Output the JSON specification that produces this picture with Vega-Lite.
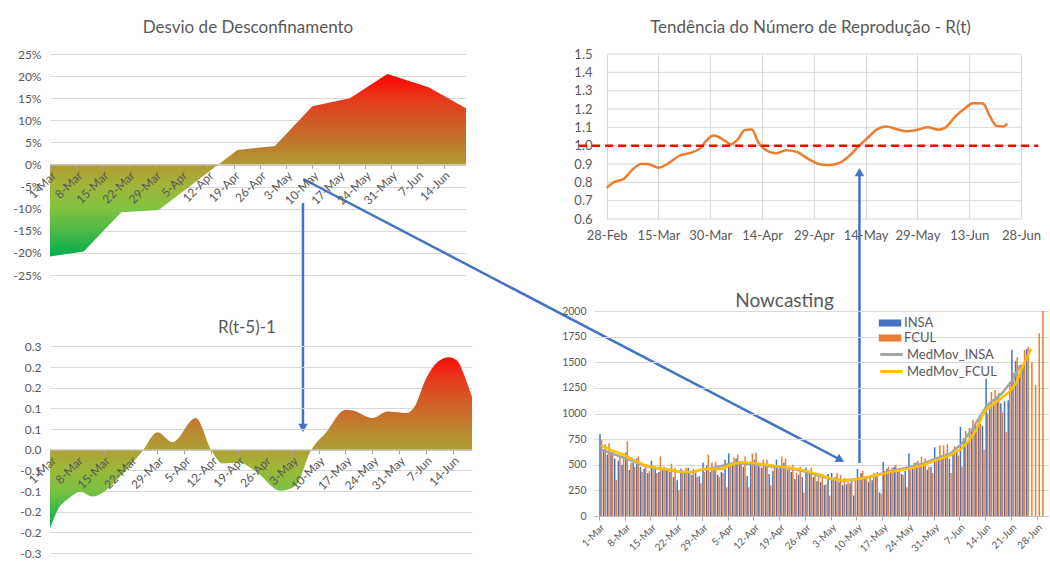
{
"$schema": "https://vega.github.io/schema/vega-lite/v6.json",
"background": "white",
"padding": {"left": 13, "top": 19, "right": 0, "bottom": 0},
"config": {
 "font": "Lato",
 "view": {"stroke": null},
 "axis": {"labelFont": "Lato", "labelColor": "#595959", "gridColor": "#d9d9d9", "domainColor": "#bfbfbf", "tickColor": "#a6a6a6"},
 "legend": {"labelFont": "Lato", "labelColor": "#595959"},
 "title": {"font": "Lato", "fontWeight": "normal", "color": "#595959", "frame": "group"},
 "locale": {"number": {"decimal": ".", "thousands": ",", "grouping": [3], "currency": ["$", ""], "minus": "-"}}
},
"datasets": {
 "desvio": [
  {"date": "2021-03-01", "value": -0.208},
  {"date": "2021-03-10", "value": -0.197},
  {"date": "2021-03-20", "value": -0.108},
  {"date": "2021-03-30", "value": -0.103},
  {"date": "2021-04-20", "value": 0.033},
  {"date": "2021-04-30", "value": 0.042},
  {"date": "2021-05-10", "value": 0.132},
  {"date": "2021-05-20", "value": 0.150},
  {"date": "2021-05-30", "value": 0.205},
  {"date": "2021-06-10", "value": 0.175},
  {"date": "2021-06-20", "value": 0.127}
 ],
 "rt5": [
  {"date": "2021-03-01", "value": -0.229},
  {"date": "2021-03-03", "value": -0.175},
  {"date": "2021-03-06", "value": -0.140},
  {"date": "2021-03-09", "value": -0.122},
  {"date": "2021-03-12", "value": -0.136},
  {"date": "2021-03-15", "value": -0.123},
  {"date": "2021-03-18", "value": -0.092},
  {"date": "2021-03-22", "value": -0.045},
  {"date": "2021-03-25", "value": -0.005},
  {"date": "2021-03-29", "value": 0.051},
  {"date": "2021-04-02", "value": 0.022},
  {"date": "2021-04-08", "value": 0.092},
  {"date": "2021-04-12", "value": 0.0},
  {"date": "2021-04-15", "value": -0.040},
  {"date": "2021-04-19", "value": -0.037},
  {"date": "2021-04-24", "value": -0.066},
  {"date": "2021-04-30", "value": -0.119},
  {"date": "2021-05-04", "value": -0.105},
  {"date": "2021-05-08", "value": -0.002},
  {"date": "2021-05-12", "value": 0.051},
  {"date": "2021-05-17", "value": 0.116},
  {"date": "2021-05-19", "value": 0.114},
  {"date": "2021-05-24", "value": 0.092},
  {"date": "2021-05-28", "value": 0.111},
  {"date": "2021-06-02", "value": 0.107},
  {"date": "2021-06-04", "value": 0.124},
  {"date": "2021-06-07", "value": 0.206},
  {"date": "2021-06-10", "value": 0.255},
  {"date": "2021-06-13", "value": 0.269},
  {"date": "2021-06-15", "value": 0.260},
  {"date": "2021-06-17", "value": 0.216},
  {"date": "2021-06-19", "value": 0.153}
 ],
 "rt": [
  {"date": "2021-02-28", "value": 0.77}, {"date": "2021-03-02", "value": 0.80}, {"date": "2021-03-05", "value": 0.82},
  {"date": "2021-03-07", "value": 0.86}, {"date": "2021-03-10", "value": 0.90}, {"date": "2021-03-12", "value": 0.90},
  {"date": "2021-03-15", "value": 0.88}, {"date": "2021-03-18", "value": 0.905}, {"date": "2021-03-21", "value": 0.945},
  {"date": "2021-03-25", "value": 0.965}, {"date": "2021-03-27", "value": 0.985}, {"date": "2021-03-29", "value": 1.03},
  {"date": "2021-03-31", "value": 1.055}, {"date": "2021-04-03", "value": 1.03}, {"date": "2021-04-05", "value": 1.008},
  {"date": "2021-04-07", "value": 1.035}, {"date": "2021-04-09", "value": 1.085}, {"date": "2021-04-11", "value": 1.088},
  {"date": "2021-04-13", "value": 1.015}, {"date": "2021-04-16", "value": 0.967}, {"date": "2021-04-18", "value": 0.958},
  {"date": "2021-04-21", "value": 0.975}, {"date": "2021-04-24", "value": 0.967}, {"date": "2021-04-27", "value": 0.932},
  {"date": "2021-04-30", "value": 0.903}, {"date": "2021-05-03", "value": 0.894}, {"date": "2021-05-06", "value": 0.903},
  {"date": "2021-05-09", "value": 0.94}, {"date": "2021-05-12", "value": 0.997}, {"date": "2021-05-15", "value": 1.05},
  {"date": "2021-05-17", "value": 1.085}, {"date": "2021-05-20", "value": 1.105}, {"date": "2021-05-23", "value": 1.09},
  {"date": "2021-05-26", "value": 1.078}, {"date": "2021-05-29", "value": 1.087}, {"date": "2021-06-01", "value": 1.10},
  {"date": "2021-06-04", "value": 1.087}, {"date": "2021-06-06", "value": 1.097}, {"date": "2021-06-09", "value": 1.16},
  {"date": "2021-06-12", "value": 1.207}, {"date": "2021-06-14", "value": 1.232}, {"date": "2021-06-17", "value": 1.23},
  {"date": "2021-06-19", "value": 1.16}, {"date": "2021-06-21", "value": 1.107}, {"date": "2021-06-23", "value": 1.105},
  {"date": "2021-06-24", "value": 1.12}
 ],
 "rtGrid": [
  {"value": 0.6, "date": "2021-02-28", "date2": "2021-06-28"}, {"value": 0.7, "date": "2021-02-28", "date2": "2021-06-28"},
  {"value": 0.8, "date": "2021-02-28", "date2": "2021-06-28"}, {"value": 0.9, "date": "2021-02-28", "date2": "2021-06-28"},
  {"value": 1.0, "date": "2021-02-28", "date2": "2021-06-28"}, {"value": 1.1, "date": "2021-02-28", "date2": "2021-06-28"},
  {"value": 1.2, "date": "2021-02-28", "date2": "2021-06-28"}, {"value": 1.3, "date": "2021-02-28", "date2": "2021-06-28"},
  {"value": 1.4, "date": "2021-02-28", "date2": "2021-06-28"}, {"value": 1.5, "date": "2021-02-28", "date2": "2021-06-28"}
 ],
 "rtRef": [{"value": 1.0, "date": "2021-02-20", "date2": "2021-07-03"}],
 "bars": [
  {"date":"2021-03-01","INSA":800,"FCUL":740},{"date":"2021-03-02","INSA":650,"FCUL":700},{"date":"2021-03-03","INSA":600,"FCUL":710},
  {"date":"2021-03-04","INSA":620,"FCUL":640},{"date":"2021-03-05","INSA":560,"FCUL":350},{"date":"2021-03-06","INSA":540,"FCUL":580},
  {"date":"2021-03-07","INSA":500,"FCUL":600},{"date":"2021-03-08","INSA":620,"FCUL":730},{"date":"2021-03-09","INSA":450,"FCUL":520},
  {"date":"2021-03-10","INSA":520,"FCUL":480},{"date":"2021-03-11","INSA":560,"FCUL":580},{"date":"2021-03-12","INSA":480,"FCUL":430},
  {"date":"2021-03-13","INSA":460,"FCUL":500},{"date":"2021-03-14","INSA":420,"FCUL":440},{"date":"2021-03-15","INSA":540,"FCUL":470},
  {"date":"2021-03-16","INSA":480,"FCUL":420},{"date":"2021-03-17","INSA":430,"FCUL":580},{"date":"2021-03-18","INSA":450,"FCUL":480},
  {"date":"2021-03-19","INSA":470,"FCUL":460},{"date":"2021-03-20","INSA":430,"FCUL":510},{"date":"2021-03-21","INSA":380,"FCUL":470},
  {"date":"2021-03-22","INSA":350,"FCUL":250},{"date":"2021-03-23","INSA":460,"FCUL":420},{"date":"2021-03-24","INSA":430,"FCUL":470},
  {"date":"2021-03-25","INSA":470,"FCUL":440},{"date":"2021-03-26","INSA":400,"FCUL":460},{"date":"2021-03-27","INSA":420,"FCUL":380},
  {"date":"2021-03-28","INSA":390,"FCUL":320},{"date":"2021-03-29","INSA":520,"FCUL":430},{"date":"2021-03-30","INSA":490,"FCUL":600},
  {"date":"2021-03-31","INSA":430,"FCUL":520},{"date":"2021-04-01","INSA":450,"FCUL":530},{"date":"2021-04-02","INSA":400,"FCUL":380},
  {"date":"2021-04-03","INSA":430,"FCUL":420},{"date":"2021-04-04","INSA":550,"FCUL":280},{"date":"2021-04-05","INSA":610,"FCUL":500},
  {"date":"2021-04-06","INSA":520,"FCUL":570},{"date":"2021-04-07","INSA":560,"FCUL":600},{"date":"2021-04-08","INSA":530,"FCUL":520},
  {"date":"2021-04-09","INSA":480,"FCUL":580},{"date":"2021-04-10","INSA":390,"FCUL":280},{"date":"2021-04-11","INSA":530,"FCUL":610},
  {"date":"2021-04-12","INSA":550,"FCUL":620},{"date":"2021-04-13","INSA":500,"FCUL":480},{"date":"2021-04-14","INSA":470,"FCUL":550},
  {"date":"2021-04-15","INSA":480,"FCUL":550},{"date":"2021-04-16","INSA":410,"FCUL":300},{"date":"2021-04-17","INSA":440,"FCUL":480},
  {"date":"2021-04-18","INSA":550,"FCUL":460},{"date":"2021-04-19","INSA":470,"FCUL":580},{"date":"2021-04-20","INSA":520,"FCUL":560},
  {"date":"2021-04-21","INSA":450,"FCUL":470},{"date":"2021-04-22","INSA":430,"FCUL":500},{"date":"2021-04-23","INSA":360,"FCUL":420},
  {"date":"2021-04-24","INSA":400,"FCUL":480},{"date":"2021-04-25","INSA":380,"FCUL":230},{"date":"2021-04-26","INSA":470,"FCUL":450},
  {"date":"2021-04-27","INSA":430,"FCUL":470},{"date":"2021-04-28","INSA":380,"FCUL":420},{"date":"2021-04-29","INSA":340,"FCUL":400},
  {"date":"2021-04-30","INSA":330,"FCUL":410},{"date":"2021-05-01","INSA":300,"FCUL":310},{"date":"2021-05-02","INSA":410,"FCUL":200},
  {"date":"2021-05-03","INSA":420,"FCUL":360},{"date":"2021-05-04","INSA":380,"FCUL":420},{"date":"2021-05-05","INSA":330,"FCUL":400},
  {"date":"2021-05-06","INSA":300,"FCUL":370},{"date":"2021-05-07","INSA":310,"FCUL":330},{"date":"2021-05-08","INSA":320,"FCUL":350},
  {"date":"2021-05-09","INSA":200,"FCUL":360},{"date":"2021-05-10","INSA":460,"FCUL":380},{"date":"2021-05-11","INSA":420,"FCUL":440},
  {"date":"2021-05-12","INSA":380,"FCUL":390},{"date":"2021-05-13","INSA":330,"FCUL":400},{"date":"2021-05-14","INSA":350,"FCUL":420},
  {"date":"2021-05-15","INSA":380,"FCUL":430},{"date":"2021-05-16","INSA":230,"FCUL":220},{"date":"2021-05-17","INSA":530,"FCUL":440},
  {"date":"2021-05-18","INSA":460,"FCUL":480},{"date":"2021-05-19","INSA":450,"FCUL":470},{"date":"2021-05-20","INSA":480,"FCUL":500},
  {"date":"2021-05-21","INSA":430,"FCUL":470},{"date":"2021-05-22","INSA":410,"FCUL":400},{"date":"2021-05-23","INSA":440,"FCUL":280},
  {"date":"2021-05-24","INSA":610,"FCUL":480},{"date":"2021-05-25","INSA":480,"FCUL":520},{"date":"2021-05-26","INSA":520,"FCUL":540},
  {"date":"2021-05-27","INSA":500,"FCUL":580},{"date":"2021-05-28","INSA":500,"FCUL":560},{"date":"2021-05-29","INSA":450,"FCUL":480},
  {"date":"2021-05-30","INSA":480,"FCUL":420},{"date":"2021-05-31","INSA":670,"FCUL":540},{"date":"2021-06-01","INSA":550,"FCUL":690},
  {"date":"2021-06-02","INSA":560,"FCUL":690},{"date":"2021-06-03","INSA":600,"FCUL":700},{"date":"2021-06-04","INSA":560,"FCUL":420},
  {"date":"2021-06-05","INSA":620,"FCUL":680},{"date":"2021-06-06","INSA":630,"FCUL":590},{"date":"2021-06-07","INSA":870,"FCUL":480},
  {"date":"2021-06-08","INSA":760,"FCUL":830},{"date":"2021-06-09","INSA":720,"FCUL":860},{"date":"2021-06-10","INSA":830,"FCUL":940},
  {"date":"2021-06-11","INSA":900,"FCUL":880},{"date":"2021-06-12","INSA":950,"FCUL":900},{"date":"2021-06-13","INSA":880,"FCUL":650},
  {"date":"2021-06-14","INSA":1340,"FCUL":1000},{"date":"2021-06-15","INSA":1050,"FCUL":1210},{"date":"2021-06-16","INSA":1080,"FCUL":1230},
  {"date":"2021-06-17","INSA":1150,"FCUL":1200},{"date":"2021-06-18","INSA":1100,"FCUL":1010},{"date":"2021-06-19","INSA":1120,"FCUL":820},
  {"date":"2021-06-20","INSA":1130,"FCUL":1300},{"date":"2021-06-21","INSA":1620,"FCUL":1400},{"date":"2021-06-22","INSA":1510,"FCUL":1550},
  {"date":"2021-06-23","INSA":1350,"FCUL":1480},{"date":"2021-06-24","INSA":1450,"FCUL":1620},{"date":"2021-06-25","INSA":1630,"FCUL":1650},
  {"date":"2021-06-26","INSA":null,"FCUL":1500},{"date":"2021-06-27","INSA":null,"FCUL":1280},{"date":"2021-06-28","INSA":null,"FCUL":1780},
  {"date":"2021-06-29","INSA":null,"FCUL":2000}
 ],
 "medmov": [
  {"date":"2021-03-01","series":"MedMov_INSA","value":650},{"date":"2021-03-04","series":"MedMov_INSA","value":610},
  {"date":"2021-03-07","series":"MedMov_INSA","value":570},{"date":"2021-03-10","series":"MedMov_INSA","value":530},
  {"date":"2021-03-13","series":"MedMov_INSA","value":490},{"date":"2021-03-16","series":"MedMov_INSA","value":465},
  {"date":"2021-03-19","series":"MedMov_INSA","value":450},{"date":"2021-03-23","series":"MedMov_INSA","value":430},
  {"date":"2021-03-26","series":"MedMov_INSA","value":430},{"date":"2021-03-29","series":"MedMov_INSA","value":455},
  {"date":"2021-04-01","series":"MedMov_INSA","value":470},{"date":"2021-04-05","series":"MedMov_INSA","value":510},
  {"date":"2021-04-08","series":"MedMov_INSA","value":515},{"date":"2021-04-11","series":"MedMov_INSA","value":505},
  {"date":"2021-04-14","series":"MedMov_INSA","value":495},{"date":"2021-04-17","series":"MedMov_INSA","value":480},
  {"date":"2021-04-20","series":"MedMov_INSA","value":470},{"date":"2021-04-24","series":"MedMov_INSA","value":445},
  {"date":"2021-04-27","series":"MedMov_INSA","value":420},{"date":"2021-04-30","series":"MedMov_INSA","value":385},
  {"date":"2021-05-03","series":"MedMov_INSA","value":355},{"date":"2021-05-06","series":"MedMov_INSA","value":345},
  {"date":"2021-05-10","series":"MedMov_INSA","value":355},{"date":"2021-05-13","series":"MedMov_INSA","value":380},
  {"date":"2021-05-16","series":"MedMov_INSA","value":410},{"date":"2021-05-20","series":"MedMov_INSA","value":445},
  {"date":"2021-05-24","series":"MedMov_INSA","value":478},{"date":"2021-05-28","series":"MedMov_INSA","value":515},
  {"date":"2021-05-31","series":"MedMov_INSA","value":559},{"date":"2021-06-04","series":"MedMov_INSA","value":608},
  {"date":"2021-06-07","series":"MedMov_INSA","value":700},{"date":"2021-06-10","series":"MedMov_INSA","value":852},
  {"date":"2021-06-14","series":"MedMov_INSA","value":1079},{"date":"2021-06-18","series":"MedMov_INSA","value":1193},
  {"date":"2021-06-21","series":"MedMov_INSA","value":1330},{"date":"2021-06-23","series":"MedMov_INSA","value":1469},
  {"date":"2021-03-01","series":"MedMov_FCUL","value":690},{"date":"2021-03-04","series":"MedMov_FCUL","value":640},
  {"date":"2021-03-07","series":"MedMov_FCUL","value":600},{"date":"2021-03-10","series":"MedMov_FCUL","value":545},
  {"date":"2021-03-13","series":"MedMov_FCUL","value":495},{"date":"2021-03-16","series":"MedMov_FCUL","value":470},
  {"date":"2021-03-19","series":"MedMov_FCUL","value":455},{"date":"2021-03-23","series":"MedMov_FCUL","value":430},
  {"date":"2021-03-26","series":"MedMov_FCUL","value":430},{"date":"2021-03-29","series":"MedMov_FCUL","value":460},
  {"date":"2021-04-01","series":"MedMov_FCUL","value":455},{"date":"2021-04-03","series":"MedMov_FCUL","value":460},
  {"date":"2021-04-05","series":"MedMov_FCUL","value":495},{"date":"2021-04-08","series":"MedMov_FCUL","value":525},
  {"date":"2021-04-11","series":"MedMov_FCUL","value":520},{"date":"2021-04-14","series":"MedMov_FCUL","value":505},
  {"date":"2021-04-17","series":"MedMov_FCUL","value":490},{"date":"2021-04-20","series":"MedMov_FCUL","value":478},
  {"date":"2021-04-24","series":"MedMov_FCUL","value":455},{"date":"2021-04-27","series":"MedMov_FCUL","value":430},
  {"date":"2021-04-30","series":"MedMov_FCUL","value":395},{"date":"2021-05-03","series":"MedMov_FCUL","value":360},
  {"date":"2021-05-06","series":"MedMov_FCUL","value":348},{"date":"2021-05-10","series":"MedMov_FCUL","value":360},
  {"date":"2021-05-13","series":"MedMov_FCUL","value":385},{"date":"2021-05-16","series":"MedMov_FCUL","value":405},
  {"date":"2021-05-20","series":"MedMov_FCUL","value":440},{"date":"2021-05-24","series":"MedMov_FCUL","value":462},
  {"date":"2021-05-28","series":"MedMov_FCUL","value":500},{"date":"2021-05-31","series":"MedMov_FCUL","value":543},
  {"date":"2021-06-04","series":"MedMov_FCUL","value":592},{"date":"2021-06-07","series":"MedMov_FCUL","value":657},
  {"date":"2021-06-09","series":"MedMov_FCUL","value":730},{"date":"2021-06-11","series":"MedMov_FCUL","value":836},
  {"date":"2021-06-13","series":"MedMov_FCUL","value":1000},{"date":"2021-06-14","series":"MedMov_FCUL","value":1047},
  {"date":"2021-06-17","series":"MedMov_FCUL","value":1128},{"date":"2021-06-20","series":"MedMov_FCUL","value":1210},
  {"date":"2021-06-22","series":"MedMov_FCUL","value":1300},{"date":"2021-06-23","series":"MedMov_FCUL","value":1405},
  {"date":"2021-06-25","series":"MedMov_FCUL","value":1560},{"date":"2021-06-26","series":"MedMov_FCUL","value":1632}
 ],
 "arrowDown": [{"date": "2021-05-07T12:00", "value": -0.0871, "date2": "2021-05-07T12:00", "value2": -0.596}],
 "arrowDownHead": [{"date": "2021-05-07T12:00", "value": -0.596}],
 "arrowDiag": [{"date": "2021-05-07T14:00", "value": -0.0328, "date2": "2021-09-27T22:00", "value2": -0.668}],
 "arrowDiagHead": [{"date": "2021-09-27T22:00", "value": -0.668}],
 "arrowUp": [{"date": "2021-05-12T05:00", "value": -0.731, "date2": "2021-05-12T05:00", "value2": 0.856}],
 "arrowUpHead": [{"date": "2021-05-12T05:00", "value": 0.856}]
},
"columns": 3,
"bounds": "flush",
"spacing": 0,
"resolve": {"scale": {"color": "independent", "stroke": "independent"}, "legend": {"color": "independent", "stroke": "independent"}},
"concat": [
 {
  "title": {"text": "Desvio de Desconfinamento", "fontSize": 17, "offset": 11, "dx": -10},
  "width": 416, "height": 221,
  "encoding": {
   "x": {"field": "date", "type": "temporal",
    "scale": {"domain": [{"year": 2021, "month": 3, "date": 1}, {"year": 2021, "month": 6, "date": 20}]},
    "axis": {"title": null, "format": "%-d-%b", "labelAngle": -45, "labelFontSize": 12, "offset": -110.5, "grid": false,
     "tickSize": 4, "labelPadding": 1, "zindex": 1, "labelFlush": false, "labelOverlap": false,
     "values": [{"year":2021,"month":3,"date":1},{"year":2021,"month":3,"date":8},{"year":2021,"month":3,"date":15},{"year":2021,"month":3,"date":22},{"year":2021,"month":3,"date":29},{"year":2021,"month":4,"date":5},{"year":2021,"month":4,"date":12},{"year":2021,"month":4,"date":19},{"year":2021,"month":4,"date":26},{"year":2021,"month":5,"date":3},{"year":2021,"month":5,"date":10},{"year":2021,"month":5,"date":17},{"year":2021,"month":5,"date":24},{"year":2021,"month":5,"date":31},{"year":2021,"month":6,"date":7},{"year":2021,"month":6,"date":14}]}},
   "y": {"field": "value", "type": "quantitative", "scale": {"domain": [-0.25, 0.25], "nice": false, "zero": false},
    "axis": {"title": null, "format": ".0%", "labelFontSize": 12, "domain": false, "ticks": false, "grid": true, "labelPadding": 9,
     "values": [-0.25, -0.2, -0.15, -0.1, -0.05, 0, 0.05, 0.1, 0.15, 0.2, 0.25]}}
  },
  "layer": [
   {
    "data": {"name": "desvio"},
    "mark": {"type": "area", "color": {"gradient": "linear", "x1": 0, "y1": 1, "x2": 0, "y2": 0,
      "stops": [{"offset": 0, "color": "#00ae4d"}, {"offset": 0.14, "color": "#4cb847"}, {"offset": 0.27, "color": "#83c341"},
        {"offset": 0.4, "color": "#a3b33a"}, {"offset": 0.5, "color": "#b09c33"}, {"offset": 0.63, "color": "#c0762d"},
        {"offset": 0.75, "color": "#d25726"}, {"offset": 0.87, "color": "#e8361a"}, {"offset": 1, "color": "#ff0000"}]}},
    "encoding": {"y2": {"datum": 0}}
   },
   {
    "data": {"name": "arrowDown"},
    "mark": {"type": "rule", "color": "#4472c4", "strokeWidth": 2.5},
    "encoding": {"x2": {"field": "date2"}, "y2": {"field": "value2"}}
   },
   {
    "data": {"name": "arrowDownHead"},
    "mark": {"type": "point", "shape": "triangle-down", "filled": true, "size": 90, "color": "#4472c4", "opacity": 1},
    "encoding": {}
   },
   {
    "data": {"name": "arrowDiag"},
    "mark": {"type": "rule", "color": "#4472c4", "strokeWidth": 2.5},
    "encoding": {"x2": {"field": "date2"}, "y2": {"field": "value2"}}
   },
   {
    "data": {"name": "arrowDiagHead"},
    "mark": {"type": "point", "shape": "triangle-right", "angle": 27.6, "filled": true, "size": 90, "color": "#4472c4", "opacity": 1},
    "encoding": {}
   }
  ]
 },
 {"width": 121.3, "height": 1, "data": {"values": []}, "mark": "point"},
 {
  "title": {"text": "Tendência do Número de Reprodução - R(t)", "fontSize": 17, "offset": 11, "dx": 3},
  "width": 427, "height": 165,
  "encoding": {
   "x": {"field": "date", "type": "temporal",
    "scale": {"domain": [{"year": 2021, "month": 2, "date": 24, "hours": 7, "minutes": 40}, {"year": 2021, "month": 6, "date": 28}]},
    "axis": {"title": null, "format": "%-d-%b", "labelFontSize": 13, "grid": true, "domain": false, "ticks": false,
     "labelPadding": 10, "labelFlush": false, "labelOverlap": false, "labelAngle": 0,
     "values": [{"year":2021,"month":2,"date":28},{"year":2021,"month":3,"date":15},{"year":2021,"month":3,"date":30},{"year":2021,"month":4,"date":14},{"year":2021,"month":4,"date":29},{"year":2021,"month":5,"date":14},{"year":2021,"month":5,"date":29},{"year":2021,"month":6,"date":13},{"year":2021,"month":6,"date":28}]}},
   "y": {"field": "value", "type": "quantitative", "scale": {"domain": [0.6, 1.5], "nice": false, "zero": false},
    "axis": {"title": null, "format": ".1f", "labelFontSize": 13, "domain": false, "ticks": false, "grid": false, "labelPadding": 2,
     "values": [0.6, 0.7, 0.8, 0.9, 1.0, 1.1, 1.2, 1.3, 1.4, 1.5]}}
  },
  "layer": [
   {
    "data": {"name": "rtGrid"},
    "mark": {"type": "rule", "color": "#d9d9d9", "strokeWidth": 1},
    "encoding": {"x2": {"field": "date2"}}
   },
   {
    "data": {"name": "rt"},
    "mark": {"type": "line", "interpolate": "monotone", "color": "#ed7d31", "strokeWidth": 2.5},
    "encoding": {}
   },
   {
    "data": {"name": "rtRef"},
    "mark": {"type": "rule", "color": "#ff0000", "strokeWidth": 2.5, "strokeDash": [8, 5]},
    "encoding": {"x2": {"field": "date2"}}
   },
   {
    "data": {"name": "arrowUp"},
    "mark": {"type": "rule", "color": "#4472c4", "strokeWidth": 2.5},
    "encoding": {"x2": {"field": "date2"}, "y2": {"field": "value2"}}
   },
   {
    "data": {"name": "arrowUpHead"},
    "mark": {"type": "point", "shape": "triangle-up", "filled": true, "size": 90, "color": "#4472c4", "opacity": 1},
    "encoding": {}
   }
  ]
 },
 {"width": 1, "height": 35.3, "data": {"values": []}, "mark": "point"},
 {"width": 1, "height": 1, "data": {"values": []}, "mark": "point"},
 {"width": 1, "height": 1, "data": {"values": []}, "mark": "point"},
 {
  "title": {"text": "R(t-5)-1", "fontSize": 17, "offset": -26, "dx": -14},
  "width": 422, "height": 242,
  "data": {"name": "rt5"},
  "mark": {"type": "area", "interpolate": "monotone", "color": {"gradient": "linear", "x1": 0, "y1": 1, "x2": 0, "y2": 0,
    "stops": [{"offset": 0, "color": "#00ae4d"}, {"offset": 0.22, "color": "#78c243"}, {"offset": 0.36, "color": "#a0b63a"},
      {"offset": 0.46, "color": "#ad9f35"}, {"offset": 0.56, "color": "#b98a31"}, {"offset": 0.66, "color": "#c8702b"},
      {"offset": 0.86, "color": "#e53e1f"}, {"offset": 1, "color": "#ff0a0a"}]}},
  "encoding": {
   "x": {"field": "date", "type": "temporal",
    "scale": {"domain": [{"year": 2021, "month": 3, "date": 1}, {"year": 2021, "month": 6, "date": 19}]},
    "axis": {"title": null, "format": "%-d-%b", "labelAngle": -45, "labelFontSize": 12, "offset": -103.3, "grid": false,
     "tickSize": 4, "labelPadding": 1, "zindex": 1, "labelFlush": false, "labelOverlap": false,
     "values": [{"year":2021,"month":3,"date":1},{"year":2021,"month":3,"date":8},{"year":2021,"month":3,"date":15},{"year":2021,"month":3,"date":22},{"year":2021,"month":3,"date":29},{"year":2021,"month":4,"date":5},{"year":2021,"month":4,"date":12},{"year":2021,"month":4,"date":19},{"year":2021,"month":4,"date":26},{"year":2021,"month":5,"date":3},{"year":2021,"month":5,"date":10},{"year":2021,"month":5,"date":17},{"year":2021,"month":5,"date":24},{"year":2021,"month":5,"date":31},{"year":2021,"month":6,"date":7},{"year":2021,"month":6,"date":14}]}},
   "y": {"field": "value", "type": "quantitative", "scale": {"domain": [-0.3, 0.4031], "nice": false, "zero": false},
    "axis": {"title": null, "format": ".1f", "labelFontSize": 12, "domain": false, "ticks": false, "grid": true, "labelPadding": 9,
     "values": [-0.3, -0.24, -0.18, -0.12, -0.06, 0, 0.06, 0.12, 0.18, 0.24, 0.3]}},
   "y2": {"datum": 0}
  }
 },
 {"width": 1, "height": 1, "data": {"values": []}, "mark": "point"},
 {
  "title": {"text": "Nowcasting", "fontSize": 19, "offset": -5, "dx": -37},
  "width": 455, "height": 205,
  "encoding": {
   "x": {"field": "date", "type": "temporal",
    "scale": {"domain": [{"year": 2021, "month": 3, "date": 1}, {"year": 2021, "month": 6, "date": 30}]},
    "axis": {"title": null, "format": "%-d-%b", "labelAngle": -45, "labelFontSize": 10, "grid": false, "tickSize": 4,
     "labelPadding": 2, "labelFlush": false, "labelOverlap": false,
     "values": [{"year":2021,"month":3,"date":1},{"year":2021,"month":3,"date":8},{"year":2021,"month":3,"date":15},{"year":2021,"month":3,"date":22},{"year":2021,"month":3,"date":29},{"year":2021,"month":4,"date":5},{"year":2021,"month":4,"date":12},{"year":2021,"month":4,"date":19},{"year":2021,"month":4,"date":26},{"year":2021,"month":5,"date":3},{"year":2021,"month":5,"date":10},{"year":2021,"month":5,"date":17},{"year":2021,"month":5,"date":24},{"year":2021,"month":5,"date":31},{"year":2021,"month":6,"date":7},{"year":2021,"month":6,"date":14},{"year":2021,"month":6,"date":21},{"year":2021,"month":6,"date":28}]}},
   "y": {"field": "value", "type": "quantitative", "scale": {"domain": [0, 2000], "nice": false},
    "axis": {"title": null, "format": "d", "labelFontSize": 10.5, "domain": false, "ticks": false, "grid": true, "labelPadding": 8,
     "values": [0, 250, 500, 750, 1000, 1250, 1500, 1750, 2000]}}
  },
  "layer": [
   {
    "data": {"name": "bars"},
    "transform": [{"fold": ["INSA", "FCUL"], "as": ["series", "value"]}, {"filter": "datum.series === 'INSA'"}],
    "mark": {"type": "bar", "width": 1.5, "xOffset": 1.0},
    "encoding": {
     "color": {"datum": "INSA", "type": "nominal",
      "scale": {"domain": ["INSA", "FCUL"], "range": ["#4472c4", "#ed7d31"]},
      "legend": {"title": null, "orient": "none", "legendX": 288, "legendY": 4, "symbolType": "M-1.4,-0.44H1.4V0.44H-1.4Z",
       "symbolSize": 256, "symbolStrokeWidth": 0, "labelFontSize": 13, "labelOffset": 6, "rowPadding": 0}}
    }
   },
   {
    "data": {"name": "bars"},
    "transform": [{"fold": ["INSA", "FCUL"], "as": ["series", "value"]}, {"filter": "datum.series === 'FCUL'"}],
    "mark": {"type": "bar", "width": 1.5, "xOffset": 2.6},
    "encoding": {"color": {"datum": "FCUL", "type": "nominal"}}
   },
   {
    "data": {"name": "medmov"},
    "mark": {"type": "line", "strokeWidth": 2.5, "xOffset": 1.9},
    "encoding": {
     "stroke": {"field": "series", "type": "nominal",
      "scale": {"domain": ["MedMov_INSA", "MedMov_FCUL"], "range": ["#a5a5a5", "#ffc000"]},
      "legend": {"title": null, "orient": "none", "legendX": 288, "legendY": 34, "symbolType": "M-1.4,0H1.4",
       "symbolSize": 256, "symbolStrokeWidth": 3, "labelFontSize": 13, "labelOffset": 6, "rowPadding": 0}}
    }
   }
  ]
 }
]
}
